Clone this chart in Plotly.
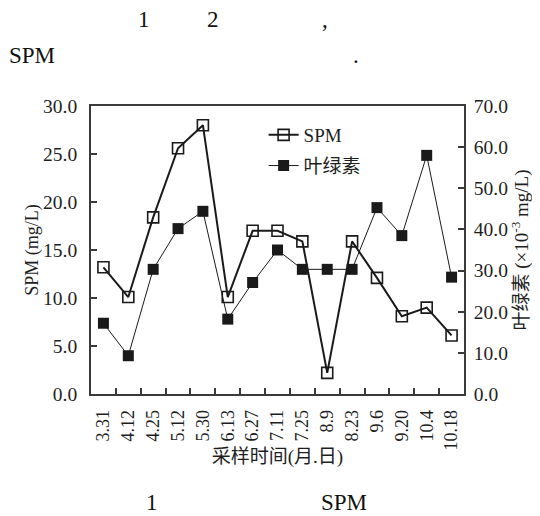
import plotly.graph_objects as go

dates = ["3.31", "4.12", "4.25", "5.12", "5.30", "6.13", "6.27", "7.11",
         "7.25", "8.9", "8.23", "9.6", "9.20", "10.4", "10.18"]
spm = [13.2, 10.1, 18.4, 25.6, 28.0, 10.1, 17.0, 17.0, 15.9, 2.2, 15.9, 12.1, 8.1, 9.0, 6.1]
chl = [17.2, 9.3, 30.3, 40.2, 44.4, 18.2, 27.1, 35.0, 30.3, 30.3, 30.3, 45.3, 38.5, 58.0, 28.4]

left_ticks = [0, 5, 10, 15, 20, 25, 30]
right_ticks = [0, 10, 20, 30, 40, 50, 60, 70]

FONT = "Liberation Serif, Noto Sans CJK SC, serif"
INK = "#1a1a1a"
AX = "#3a3a3a"

fig = go.Figure()
fig.add_trace(go.Scatter(
    x=dates, y=spm, name="SPM", mode="lines+markers",
    line=dict(color=INK, width=2),
    marker=dict(symbol="square-open", size=11, color=INK, line=dict(width=1.6, color=INK)),
    legendgroup="a", yaxis="y"))
fig.add_trace(go.Scatter(
    x=dates, y=chl, name="叶绿素", mode="lines+markers",
    line=dict(color=INK, width=1),
    marker=dict(symbol="square", size=11, color=INK),
    legendgroup="b", yaxis="y2"))

# page body offset of the browser (default 8px margin)
OFF = 8
W, H = 540 - OFF, 516 - OFF
# plot area in window pixels: x 91..467, y 106..394
L = 91 - OFF
T = 106 - OFF
R = W - (467 - OFF)
B = H - (394 - OFF)
pw, ph = W - L - R, H - T - B

def px(x):
    return (x - OFF - L) / pw

def py(y):
    return (H - B - (y - OFF)) / ph

annos = []
for txt, x, y in [("1", 144, 20), ("2", 214, 20), (",", 327, 20),
                  ("SPM", 31.5, 55), (".", 358, 55),
                  ("1", 152, 502), ("SPM", 346, 502)]:
    annos.append(dict(text=txt, x=px(x), y=py(y), xref="paper", yref="paper",
                      xanchor="center", yanchor="middle", showarrow=False,
                      font=dict(family=FONT, size=23, color="#111")))

fig.update_layout(
    width=W, height=H,
    margin=dict(l=L, r=R, t=T, b=B),
    paper_bgcolor="white", plot_bgcolor="white",
    font=dict(family=FONT, size=18, color="#1e1e1e"),
    showlegend=True,
    legend=dict(x=px(265), y=py(116), xanchor="left", yanchor="top",
                font=dict(family=FONT, size=19, color="#1e1e1e"),
                tracegroupgap=3, bgcolor="rgba(0,0,0,0)"),
    xaxis=dict(type="category", range=[-0.5, 14.5], tickson="boundaries",
               ticks="inside", ticklen=6, tickwidth=1.5, tickcolor=AX,
               showline=True, linecolor=AX, linewidth=1.8, mirror=True,
               showgrid=False, tickangle=-90, ticklabelstandoff=7,
               tickfont=dict(size=18),
               title=dict(text="采样时间(月.日)", standoff=0,
                          font=dict(size=19))),
    yaxis=dict(range=[0, 30], tickvals=left_ticks, tickformat=".1f",
               ticks="inside", ticklen=6, tickwidth=1.5, tickcolor=AX,
               showline=True, linecolor=AX, linewidth=1.8, showgrid=False,
               zeroline=False, ticklabelstandoff=8, tickfont=dict(size=19.5),
               title=dict(text="SPM (mg/L)", standoff=0, font=dict(size=18))),
    yaxis2=dict(range=[0, 70], tickvals=right_ticks, tickformat=".1f",
                overlaying="y", side="right",
                ticks="inside", ticklen=6, tickwidth=1.5, tickcolor=AX,
                showline=True, linecolor=AX, linewidth=1.8, showgrid=False,
                zeroline=False, ticklabelstandoff=4, tickfont=dict(size=19.5),
                title=dict(text="叶绿素 (×10<sup>-3</sup> mg/L)", standoff=7,
                           font=dict(size=19))),
    annotations=annos,
)

fig.write_html("out.html")
